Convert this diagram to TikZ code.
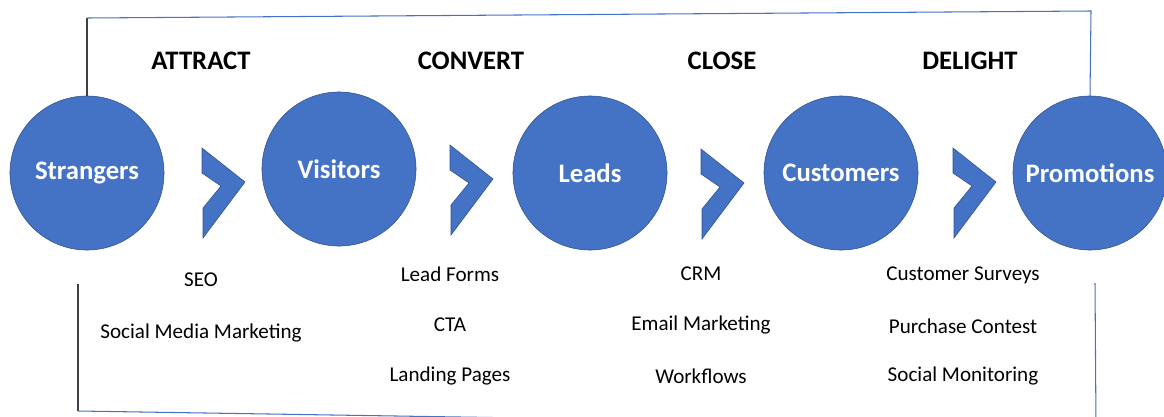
\documentclass[tikz,border=0pt]{standalone}
\usepackage{fontspec}
\setmainfont{Carlito}
\definecolor{funnelblue}{HTML}{4472C4}
\definecolor{edgeblue}{HTML}{2F528F}
\definecolor{framegray}{HTML}{404040}
\tikzset{
  stage/.style={circle, fill=funnelblue, draw=edgeblue, minimum size=3.85cm, inner sep=0pt,
    text=white, font=\fontsize{19}{22}\selectfont\bfseries},
  phase/.style={font=\fontsize{19}{22}\selectfont\bfseries},
  tool/.style={font=\fontsize{15}{18}\selectfont},
  bluebar/.style={funnelblue, line width=0.75pt},
  graybar/.style={framegray, line width=0.75pt},
}
\begin{document}
\begin{tikzpicture}[x=0.025cm, y=-0.025cm]
    \useasboundingbox (0,0) rectangle (1164,416);

    % Stages
    \node[stage] (strangers) at (87,173) {\raisebox{-2pt}{Strangers}};
    \node[stage] (visitors) at (339,169) {Visitors};
    \node[stage] (leads) at (590,173) {Leads};
    \node[stage] (customers) at (841,173) {Customers};
    \node[stage] (promotions) at (1090,173) {\raisebox{-1pt}{Promotions}};

    % Chevrons
    \foreach \cx/\cy in {202/148, 450/145, 701/149, 953/148}
        \filldraw[fill=funnelblue, draw=edgeblue, line width=0.4pt]
            (\cx,\cy) -- ++(43,34) -- ++(-42,56) -- ++(0,-30) -- ++(18,-22) -- ++(-19,-13) -- cycle;

    % Top frame
    \coordinate (topleft) at (87,18);
    \coordinate (topright) at (1091,11);
    \draw[graybar] (strangers.north) -- (topleft);
    \draw[bluebar] (topleft) -- (topright) -- (promotions.north);

    % Bottom frame
    \coordinate (lowleft) at (78,284);
    \coordinate (cornerleft) at (78,411);
    \coordinate (cornerright) at (1096,427);
    \coordinate (lowright) at (1095,283);
    \draw[graybar] (lowleft) -- (cornerleft);
    \draw[bluebar] (cornerleft) -- (cornerright) -- (lowright);

    % Phases
    \node[phase] (attract) at (201,61) {ATTRACT};
    \node[phase] (convert) at (471,61) {CONVERT};
    \node[phase] (close) at (722,61) {CLOSE};
    \node[phase] (delight) at (970,61) {DELIGHT};

    % Tools
    \node[tool] (seo) at (201,280) {SEO};
    \node[tool] (smm) at (201,333) {Social Media Marketing};

    \node[tool] (forms) at (450,274) {Lead Forms};
    \node[tool] (cta) at (450,325) {CTA};
    \node[tool] (landing) at (450,376) {Landing Pages};

    \node[tool] (crm) at (701,274) {CRM};
    \node[tool] (email) at (701,325) {Email Marketing};
    \node[tool] (workflows) at (701,376) {Workflows};

    \node[tool] (surveys) at (963,275) {Customer Surveys};
    \node[tool] (contest) at (963,326) {Purchase Contest};
    \node[tool] (monitoring) at (963,376) {Social Monitoring};

\end{tikzpicture}
\end{document}
